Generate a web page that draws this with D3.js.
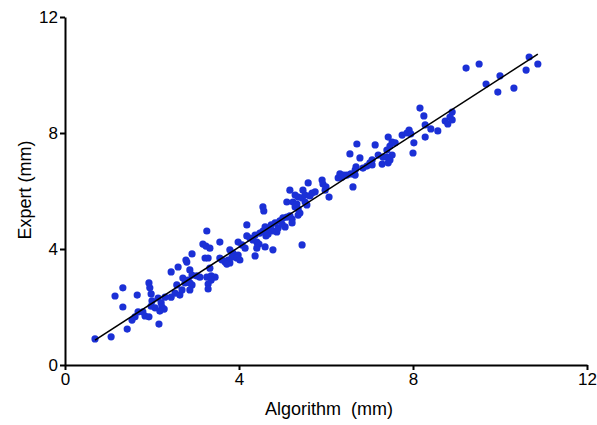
<!DOCTYPE html>
<html>
<head>
<meta charset="utf-8">
<script src="https://cdn.jsdelivr.net/npm/d3@7"></script>
<style>
  body { margin: 0; background: #fff; }
  .axis path, .axis line { stroke: #000; stroke-width: 2px; }
  .axis text { font-family: "Liberation Sans", Arial, sans-serif; font-size: 17px; fill: #000; }
  .label { font-family: "Liberation Sans", Arial, sans-serif; font-size: 18px; fill: #000; }
</style>
</head>
<body>
<div class="chart-box"></div>
<script>
// algorithm (x) vs expert (y), in mm
let algX = [0.69,1.06,1.43,2.16,1.54,1.61,1.68,1.79,1.84,1.93,1.98,2.07,2.00,1.98,1.95,2.14,2.21,2.23,2.28,2.18,
  1.33,1.15,1.33,1.66,1.93,2.30,2.44,2.53,2.64,2.69,2.57,2.71,2.76,2.83,2.87,2.92,2.92,2.87,2.44,2.60,
  2.80,3.03,2.78,2.92,2.87,3.10,3.26,3.36,3.45,3.36,3.29,3.29,3.33,3.22,3.29,3.17,3.24,3.33,3.26,3.56,
  3.56,3.61,3.68,3.75,3.79,3.72,3.79,3.86,3.98,3.84,3.95,4.02,3.98,4.07,4.14,4.18,4.18,4.25,4.32,4.41,
  4.46,4.37,4.48,4.55,4.64,4.60,4.41,4.60,4.37,4.78,4.55,4.57,4.71,4.78,4.87,4.67,4.62,4.74,4.83,4.90,
  4.94,5.01,5.06,5.10,5.17,5.22,5.22,4.99,5.36,5.40,5.10,5.24,5.33,5.29,5.36,5.17,5.29,5.36,5.45,5.52,
  5.56,5.47,5.52,5.59,5.68,5.75,5.63,5.91,5.93,6.00,5.98,6.07,6.28,6.37,6.32,6.41,6.48,6.57,6.67,6.62,
  5.45,6.71,6.55,6.78,6.69,6.67,6.85,6.94,7.01,7.06,7.06,7.13,7.20,7.31,7.40,7.29,7.43,7.47,7.52,7.43,
  7.52,7.59,7.47,7.40,7.75,7.86,7.91,7.95,8.02,8.00,8.16,8.25,8.28,8.41,8.57,8.28,8.90,8.85,8.74,8.80,
  8.90,9.22,9.52,9.68,10.00,9.95,10.32,10.60,10.67,10.87];
let expY = [0.90,0.97,1.24,1.41,1.55,1.66,1.83,1.83,1.69,1.66,2.03,1.97,2.21,2.45,2.66,2.31,2.14,2.00,1.93,1.86,
  2.00,2.38,2.66,2.41,2.83,2.34,2.34,2.48,2.41,2.59,2.76,3.00,2.83,2.93,2.83,2.76,3.10,3.28,3.21,3.38,
  3.55,3.07,3.62,3.83,2.59,3.03,3.03,3.07,3.03,2.93,2.79,2.62,3.34,3.69,3.69,4.17,4.10,4.03,4.62,4.24,
  3.69,3.62,3.55,3.62,3.52,3.48,3.97,3.86,3.79,3.72,3.69,3.62,4.24,4.14,4.03,4.83,4.45,4.38,4.31,4.24,
  4.17,4.48,4.55,4.62,4.66,4.76,4.03,4.07,3.76,3.97,5.45,5.31,4.72,4.62,4.59,4.52,4.45,4.83,4.90,4.72,
  4.97,5.07,4.76,5.10,5.14,5.03,4.90,4.86,5.17,5.24,5.62,5.62,5.55,5.45,5.38,6.03,5.86,5.79,5.76,5.62,
  5.52,6.03,5.86,6.28,5.93,5.97,5.83,6.38,6.24,6.14,6.03,5.79,6.45,6.48,6.59,6.55,6.55,6.59,6.55,6.14,
  4.14,7.62,7.28,7.14,6.83,6.72,6.79,6.86,6.97,7.07,6.90,7.59,7.24,7.17,7.17,6.93,6.97,7.07,7.24,7.86,
  7.69,7.66,7.55,7.41,7.93,8.00,8.10,7.97,7.66,7.31,8.86,8.59,8.28,8.14,8.07,7.86,8.72,8.55,8.41,8.31,
  8.45,10.24,10.38,9.69,9.97,9.41,9.55,10.17,10.62,10.38];

// fitted line ends
let fitX = [0.69, 10.87];
let fitY = [0.86, 10.72];

let xTicks = [0, 4, 8, 12];
let yTicks = [0, 4, 8, 12];

let width = 597, height = 425;

let svg = d3.select('.chart-box')
  .append('svg')
  .attr('width', width)
  .attr('height', height)
  .style('background', '#fff')

let x = d3.scaleLinear().domain([0, 12]).range([65, 587]);
let y = d3.scaleLinear().domain([0, 12]).range([365, 17]);

//points
svg.append("g")
  .selectAll("circle")
  .data(algX.map(function (d, i) { return [d, expY[i]]; }))
  .enter()
  .append("circle")
  .attr("cx", function (d) { return x(d[0]); })
  .attr("cy", function (d) { return y(d[1]); })
  .attr("r", 3.6)
  .attr("fill", "#1b30d6")

//fit line
svg.append("line")
  .attr("x1", x(fitX[0]))
  .attr("y1", y(fitY[0]))
  .attr("x2", x(fitX[1]))
  .attr("y2", y(fitY[1]))
  .attr("stroke", "#000")
  .attr("stroke-width", 1.6)

//axes
svg.append("g")
  .attr("class", "axis")
  .attr("transform", "translate(0," + y(0) + ")")
  .call(d3.axisBottom(x).tickValues(xTicks).tickSizeInner(5).tickSizeOuter(0).tickPadding(3))

svg.append("g")
  .attr("class", "axis")
  .attr("transform", "translate(" + x(0) + ",0)")
  .call(d3.axisLeft(y).tickValues(yTicks).tickSizeInner(5).tickSizeOuter(0).tickPadding(2))

svg.append("text")
  .attr("class", "label")
  .attr("x", 329)
  .attr("y", 415)
  .attr("text-anchor", "middle")
  .attr("xml:space", "preserve")
  .style("white-space", "pre")
  .text("Algorithm  (mm)")

svg.append("text")
  .attr("class", "label")
  .attr("transform", "translate(31,190) rotate(-90)")
  .attr("text-anchor", "middle")
  .text("Expert (mm)")
</script>
</body>
</html>
